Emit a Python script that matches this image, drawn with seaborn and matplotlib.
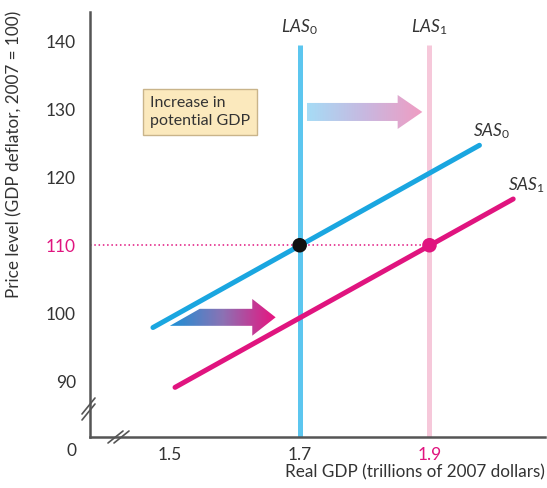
import numpy as np
import pandas as pd
import matplotlib
matplotlib.use("Agg")
import matplotlib.pyplot as plt
import seaborn as sns
from matplotlib.patches import Polygon
from matplotlib.colors import LinearSegmentedColormap

# data
sas0_x = [1.474, 1.977]
sas0_y = [97.9, 124.7]
sas1_x = [1.508, 2.029]
sas1_y = [89.1, 116.8]
las_x = [1.7, 1.9]
las_top = 139.5
eq_x = [1.7, 1.9]
eq_y = [110, 110]
y_ticks = [90, 100, 110, 120, 130, 140]
x_ticks = [1.5, 1.7, 1.9]

BLUE = "#1aa6e0"
LIGHT_BLUE = "#5cc6ef"
MAGENTA = "#e0147f"
PINK = "#f6c8da"
AXIS = "#555555"
TEXT = "#333333"

sns.set_style("white")
plt.rcParams["font.family"] = ["Lato", "DejaVu Sans"]
plt.rcParams["mathtext.fontset"] = "custom"
plt.rcParams["mathtext.rm"] = "Lato"
plt.rcParams["mathtext.it"] = "Lato:italic"

fig = plt.figure(figsize=(5.47, 4.88), dpi=100)
ax = fig.add_axes([90 / 547, 51 / 488, 455 / 547, 425 / 488])

# vertical long-run supply lines
ax.vlines(las_x[0], 81.8, las_top, color=LIGHT_BLUE, lw=3.6, zorder=2)
ax.vlines(las_x[1], 81.8, las_top, color=PINK, lw=3.6, zorder=2)

# short-run supply curves
sas = pd.DataFrame({
    "gdp": sas0_x + sas1_x,
    "price": sas0_y + sas1_y,
    "curve": ["SAS0"] * 2 + ["SAS1"] * 2,
})
sns.lineplot(data=sas, x="gdp", y="price", hue="curve",
             palette={"SAS0": BLUE, "SAS1": MAGENTA}, lw=3.6,
             legend=False, ax=ax, zorder=3)

# dotted price level line
ax.plot([1.377, eq_x[1]], [eq_y[1], eq_y[1]], ls=(0, (1, 1.8)), color=MAGENTA,
        lw=1.1, zorder=1)

# equilibrium points
eq = pd.DataFrame({"gdp": eq_x, "price": eq_y, "pt": ["a", "b"]})
sns.scatterplot(data=eq, x="gdp", y="price", hue="pt",
                palette={"a": "#111111", "b": MAGENTA}, s=110,
                edgecolor="none", legend=False, ax=ax, zorder=4)


def gradient_arrow(ax, x0, x1, y, body_h, head_h, head_len, colors, slant=0.0):
    verts = [(x0, y - body_h / 2), (x1 - head_len, y - body_h / 2),
             (x1 - head_len, y - head_h / 2), (x1, y),
             (x1 - head_len, y + head_h / 2), (x1 - head_len, y + body_h / 2),
             (x0 + slant, y + body_h / 2)]
    poly = Polygon(verts, closed=True, fc="none", ec="none")
    ax.add_patch(poly)
    cmap = LinearSegmentedColormap.from_list("g", colors)
    grad = np.linspace(0, 1, 256).reshape(1, -1)
    im = ax.imshow(grad, extent=[x0, x1, y - head_h / 2, y + head_h / 2],
                   cmap=cmap, aspect="auto", zorder=2.5)
    im.set_clip_path(poly)


gradient_arrow(ax, 1.711, 1.889, 129.6, 2.65, 5.0, 0.038,
               ["#a6dcf6", "#c8b8e0", "#f09cc2"])
gradient_arrow(ax, 1.5, 1.663, 99.4, 2.5, 5.4, 0.036,
               ["#1b90d6", "#8c72b4", "#e8137f"], slant=0.046)

ax.set_xlim(1.377, 2.078)
ax.set_ylim(81.8, 144.3)

# box
ax.text(1.469, 129.6, "Increase in\npotential GDP", ha="left", va="center",
        fontsize=11.5, color=TEXT, linespacing=1.4,
        bbox=dict(boxstyle="square,pad=0.42", fc="#fbe9bd", ec="#c9b48a", lw=1))

# curve labels
ax.text(1.7, 140.6, r"$LAS_\mathrm{0}$", ha="center", va="bottom", fontsize=12.5, color=TEXT)
ax.text(1.9, 140.6, r"$LAS_\mathrm{1}$", ha="center", va="bottom", fontsize=12.5, color=TEXT)
ax.text(1.995, 125.4, r"$SAS_\mathrm{0}$", ha="center", va="bottom", fontsize=12.5, color=TEXT)
ax.text(2.05, 117.4, r"$SAS_\mathrm{1}$", ha="center", va="bottom", fontsize=12.5, color=TEXT)

# axes styling
sns.despine(ax=ax)
for s in ["left", "bottom"]:
    ax.spines[s].set_color(AXIS)
    ax.spines[s].set_linewidth(1.8)
ax.set_yticks(y_ticks)
ax.set_xticks(x_ticks)
ax.set_xticklabels(["1.5", "1.7", "1.9"])
ax.tick_params(axis="both", direction="in", length=7, width=1.6, color=AXIS,
               labelsize=12.5, labelcolor=TEXT)
ax.tick_params(axis="y", pad=10)
ax.tick_params(axis="x", pad=7)
ax.get_yticklabels()[2].set_color(MAGENTA)
ax.get_xticklabels()[2].set_color(MAGENTA)

ax.set_xlabel("Real GDP (trillions of 2007 dollars)", fontsize=12.3, color=TEXT)
ax.xaxis.set_label_coords(1.0, -0.065)
ax.xaxis.label.set_horizontalalignment("right")
ax.set_ylabel("Price level (GDP deflator, 2007 = 100)", fontsize=12.3, color=TEXT)
ax.yaxis.set_label_coords(-0.148, 0.665)

ax.annotate("0", xy=(0, 0), xycoords="axes fraction", xytext=(-13, -10),
            textcoords="offset points", ha="center", va="center",
            fontsize=12.5, color=TEXT)

# axis break marks
for dx in (0, 6):
    ax.plot([-8 / 455, 5 / 455],
            [(437 - 420 + dx) / 425, (437 - 404 + dx) / 425],
            transform=ax.transAxes, color=AXIS, lw=1.2, clip_on=False)
    ax.plot([(108 - 90 + dx) / 455, (123 - 90 + dx) / 455], [-6 / 425, 6 / 425],
            transform=ax.transAxes, color=AXIS, lw=1.2, clip_on=False)

ax.set_facecolor("white")
fig.savefig("out.png", dpi=100, facecolor="white")
